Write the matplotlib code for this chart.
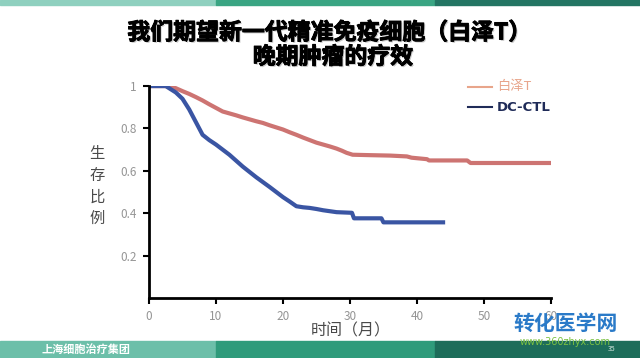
import matplotlib
matplotlib.use('Agg')
import matplotlib.pyplot as plt
import matplotlib.patheffects as pe
from matplotlib.patches import Rectangle

plt.rcParams['font.family'] = ['Noto Sans CJK SC', 'DejaVu Sans']

# survival data
months_bz = [0, 3, 4, 5, 6, 7, 8, 9, 10, 11, 12, 13, 14, 15, 16, 17, 18, 19, 20, 21, 22, 23, 24, 25,
             26, 27, 28, 28.8, 29.5, 30.4, 33, 36, 38.5, 39.2, 41.5, 41.8, 47.5, 48, 52, 56, 60]
surv_bz = [1, 1, 0.99, 0.976, 0.963, 0.948, 0.932, 0.914, 0.897, 0.88, 0.871, 0.862, 0.852, 0.843, 0.834,
           0.826, 0.815, 0.805, 0.795, 0.782, 0.77, 0.757, 0.745, 0.733, 0.724, 0.715, 0.705, 0.695,
           0.685, 0.676, 0.674, 0.672, 0.668, 0.662, 0.655, 0.649, 0.649, 0.637, 0.637, 0.637, 0.637]

months_dc = [0, 2.5, 3, 4, 5, 6, 7, 8, 9, 10, 11, 12, 13, 14, 15, 16, 17, 18, 19, 20, 21, 22, 23, 24,
             25, 26, 28, 30.3, 30.6, 34.7, 35, 43.9]
surv_dc = [1, 1, 0.99, 0.97, 0.94, 0.89, 0.83, 0.77, 0.745, 0.724, 0.7, 0.676, 0.648, 0.62, 0.595,
           0.57, 0.547, 0.524, 0.5, 0.476, 0.455, 0.433, 0.428, 0.425, 0.42, 0.414, 0.405, 0.402,
           0.376, 0.376, 0.357, 0.357]

x_ticks = [0, 10, 20, 30, 40, 50, 60]
y_ticks = [0.2, 0.4, 0.6, 0.8, 1.0]
y_tick_labels = ['0.2', '0.4', '0.6', '0.8', '1']

fig = plt.figure(figsize=(6.4, 3.58), dpi=100)
fig.patch.set_facecolor('white')

# slide decoration: top strip and bottom band
top_cols = ['#8fd0bf', '#3aa583', '#237563']
bot_cols = ['#6cbfa9', '#2f9b7b', '#1d6d5a']
band_x = [0, 0.338, 0.68]
band_w = [0.338, 0.342, 0.32]
for i in range(3):
    fig.patches.append(Rectangle((band_x[i], 0.986), band_w[i], 0.014,
                                 transform=fig.transFigure, color=top_cols[i], zorder=0))
    fig.patches.append(Rectangle((band_x[i], 0), band_w[i], 0.048,
                                 transform=fig.transFigure, color=bot_cols[i], zorder=0))

ax = fig.add_axes([0.2328, 0.1676, 0.628, 0.592])
ax.plot(months_bz, surv_bz, color='#cd7472', lw=3, solid_joinstyle='round')
ax.plot(months_dc, surv_dc, color='#3a55a3', lw=3, solid_joinstyle='round')

ax.set_xlim(0, 60)
ax.set_ylim(0, 1)
ax.set_xticks(x_ticks)
ax.set_yticks(y_ticks)
ax.set_yticklabels(y_tick_labels)
ax.tick_params(colors='black', labelcolor='#959595', labelsize=8.5, width=1.5, length=4,
               direction='out', pad=5)
for s in ['top', 'right']:
    ax.spines[s].set_visible(False)
for s in ['left', 'bottom']:
    ax.spines[s].set_linewidth(2)
ax.set_facecolor('none')

# axis labels
fig.text(0.152, 0.48, '生\n存\n比\n例', ha='center', va='center', fontsize=11,
         color='#4a4a4a', linespacing=1.35)
fig.text(0.548, 0.076, '时间（月）', ha='center', va='center', fontsize=11.5, color='#4a4a4a')

# legend
lx0, lx1 = 0.732, 0.768
fig.lines.append(plt.Line2D([lx0, lx1], [0.757, 0.757], transform=fig.transFigure, color='#e8a58b', lw=1.5))
fig.lines.append(plt.Line2D([lx0, lx1], [0.700, 0.700], transform=fig.transFigure, color='#1f2b58', lw=1.5))
fig.text(0.776, 0.757, '白泽T', ha='left', va='center', fontsize=9.5, color='#e8a58b')
fig.text(0.776, 0.700, 'DC-CTL', ha='left', va='center', fontsize=9.5, color='#1f2b58',
         fontweight='bold', family='DejaVu Sans')

# title
title_fx = [pe.withSimplePatchShadow(offset=(1.0, -1.0), shadow_rgbFace='#888888', alpha=0.45),
            pe.withStroke(linewidth=0.7, foreground='black')]
fig.text(0.514, 0.908, '我们期望新一代精准免疫细胞（白泽T）', ha='center', va='center',
         fontsize=16.5, fontweight='bold', color='black', path_effects=title_fx)
fig.text(0.52, 0.84, '晚期肿瘤的疗效', ha='center', va='center',
         fontsize=16.5, fontweight='bold', color='black', path_effects=title_fx)

# footer texts
fig.text(0.065, 0.024, '上海细胞治疗集团', ha='left', va='center', fontsize=8, color='white', fontweight='bold')
fig.text(0.955, 0.024, '35', ha='center', va='center', fontsize=5, color='#cfe5dd')
fig.text(0.883, 0.098, '转化医学网', ha='center', va='center', fontsize=15, color='#2a7ac8', fontweight='bold')
fig.text(0.883, 0.045, 'www.360zhyx.com', ha='center', va='center', fontsize=7, color='#7cc242',
         family='DejaVu Sans')

fig.savefig('out.png', dpi=100)
